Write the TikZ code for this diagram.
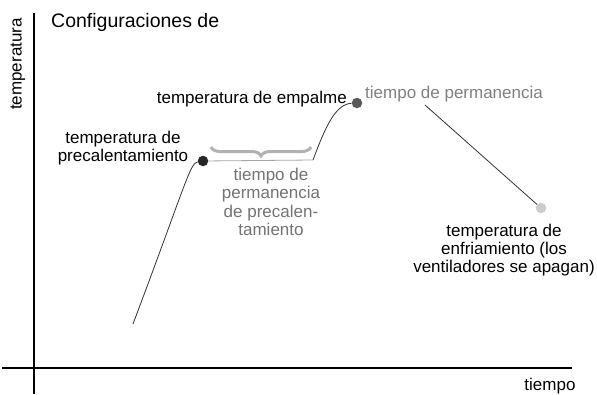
\documentclass[tikz,border=0pt]{standalone}
\usepackage{fontspec}
\setmainfont{Liberation Sans}
\usetikzlibrary{decorations.pathreplacing,positioning}

\begin{document}
\begin{tikzpicture}[x=1pt,y=-1pt,
  lbl/.style={font=\fontsize{17}{18.3}\selectfont,inner sep=0pt,align=center},
  dot/.style={circle,fill=#1,inner sep=0pt,minimum size=10.5pt},
  axis/.style={line width=1.1pt},
  ramp/.style={draw=black!80,line width=0.8pt}]
\useasboundingbox (0,0) rectangle (597,394);
% axes
\coordinate (ytop) at (34,13);
\coordinate (ybot) at (34,394);
\coordinate (xl) at (2,368);
\coordinate (xr) at (572,368);
\draw[axis] (ytop) -- (ybot);
\draw[axis] (xl) -- (xr);
\node [lbl,rotate=90] (ylab) at (18,64) {temperatura};
\node [lbl] (xlab) at (550,386) {tiempo};
\node [anchor=west,inner sep=0pt,font=\fontsize{19.5}{22}\selectfont] (title) at (51,22) {Configuraciones de};
% profile
\coordinate (start) at (133,324);
\node [dot=black!85] (pdot) at (203,161) {};
\coordinate (flatend) at (313,160);
\node [dot=black!65] (edot) at (357,103) {};
\coordinate (holdend) at (425,105);
\node [dot=black!20] (cdot) at (541,208) {};
\draw[ramp] (start) .. controls (185,186) and (190,163) .. (pdot);
\draw[black!35,line width=0.8pt] (pdot) -- (flatend);
\draw[ramp] (flatend) .. controls (326,125) and (336,104) .. (edot);
\draw[ramp] (holdend) -- (cdot);
\draw[black!30,line width=3pt,decorate,decoration={brace,mirror,amplitude=9pt}]
  (211,147) -- (311,147);
% labels
\node [lbl] (plab) at (123,148) {temperatura de\\precalentamiento};
\node [lbl,anchor=east] (elab) at (347,99) {temperatura de empalme};
\node [lbl,anchor=west,text=black!50] (hlab) at (365,94) {tiempo de permanencia};
\node [lbl,text=black!55] (pholdlab) at (271,202) {tiempo de\\permanencia\\de precalen-\\tamiento};
\node [lbl] (clab) at (504,250) {temperatura de\\enfriamiento (los\\ventiladores se apagan)};
\end{tikzpicture}
\end{document}
